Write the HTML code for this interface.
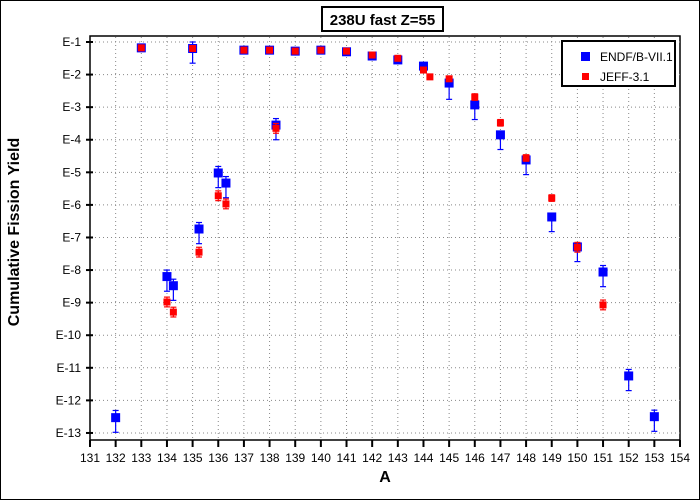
<!DOCTYPE html>
<html><head><meta charset="utf-8"><style>
html,body{margin:0;padding:0;background:#fff}
svg{display:block;font-family:"Liberation Sans",Arial,sans-serif}
</style></head><body>
<svg id="chart" width="700" height="500" viewBox="0 0 700 500">
<rect x="0.5" y="0.5" width="699" height="499" fill="#fff" stroke="#000"/>
<g>
<rect x="322" y="7" width="121" height="24" fill="#fff" stroke="#000" stroke-width="2"/>
<text x="382.5" y="25" text-anchor="middle" font-size="15" font-weight="bold">238U fast Z=55</text>
</g>
<rect x="90" y="36" width="590" height="404" fill="none" stroke="#000" stroke-width="1.5"/>
<g id="grid"></g>
<g id="xaxis"></g>
<g id="yaxis"></g>
<g id="series"></g>
<text x="19" y="232" transform="rotate(-90 19 232)" text-anchor="middle" font-size="16" font-weight="bold">Cumulative Fission Yield</text>
<text x="385" y="482" text-anchor="middle" font-size="16" font-weight="bold">A</text>
<g>
<rect x="562" y="41" width="113" height="45" fill="#fff" stroke="#000" stroke-width="2"/>
<g><rect x="581" y="52" width="9" height="9" fill="#0000ff"/><text x="600" y="61" font-size="12">ENDF/B-VII.1</text></g>
<g><rect x="582" y="73" width="7" height="7" fill="#ff0000"/><text x="600" y="81" font-size="12">JEFF-3.1</text></g>
</g>
</svg>
<script>
const xTicks = [131,132,133,134,135,136,137,138,139,140,141,142,143,144,145,146,147,148,149,150,151,152,153,154];
const yTickExp = [-1,-2,-3,-4,-5,-6,-7,-8,-9,-10,-11,-12,-13];
const yTickLabels = ["E-1","E-2","E-3","E-4","E-5","E-6","E-7","E-8","E-9","E-10","E-11","E-12","E-13"];
const endfA = [132,133,134,134.25,135,135.25,136,136.3,137,138,138.25,139,140,141,142,143,144,145,146,147,148,149,150,151,152,153];
const endfLog = [-12.53,-1.18,-8.2,-8.48,-1.2,-6.74,-5.02,-5.33,-1.25,-1.25,-3.55,-1.28,-1.25,-1.3,-1.43,-1.55,-1.74,-2.26,-2.93,-3.85,-4.62,-6.37,-7.29,-8.06,-11.25,-12.5];
const endfErrUp = [0.22,0.05,0.2,0.2,0.2,0.2,0.2,0.2,0.05,0.05,0.2,0.05,0.05,0.05,0.05,0.05,0.05,0.0,0.1,0.1,0.1,0.1,0.1,0.2,0.2,0.2];
const endfErrDn = [0.45,0.05,0.45,0.45,0.45,0.45,0.45,0.45,0.05,0.05,0.45,0.05,0.05,0.05,0.05,0.05,0.05,0.5,0.45,0.45,0.45,0.45,0.45,0.45,0.45,0.45];
const jeffA = [133,134,134.25,135,135.25,136,136.3,137,138,138.25,139,140,141,142,143,144,144.25,145,146,147,148,149,150,151];
const jeffLog = [-1.18,-8.98,-9.29,-1.2,-7.45,-5.72,-5.97,-1.25,-1.25,-3.65,-1.28,-1.25,-1.28,-1.4,-1.5,-1.86,-2.07,-2.13,-2.69,-3.48,-4.56,-5.79,-7.3,-9.07];
const jeffErr = [0.05,0.15,0.15,0.05,0.15,0.15,0.15,0.05,0.05,0.15,0.05,0.05,0.05,0.05,0.05,0.05,0.05,0.05,0.1,0.1,0.1,0.1,0.15,0.15];

const NS = "http://www.w3.org/2000/svg";
const X0 = 90, X1 = 680, Y0 = 42, DEC = 32.58;
function xs(a){ return X0 + (a - 131) * (X1 - X0) / 23; }
function ys(l){ return Y0 + (-1 - l) * DEC; }
function mk(tag, attrs, parent){ const e = document.createElementNS(NS, tag); for (const k in attrs) e.setAttribute(k, attrs[k]); parent.appendChild(e); return e; }

const grid = document.getElementById('grid'), xa = document.getElementById('xaxis'), ya = document.getElementById('yaxis'), ser = document.getElementById('series');
xTicks.forEach(function(t){
  const x = xs(t);
  if (t > 131 && t < 154) {
    const g = mk('line', {x1:x, x2:x, y1:37, y2:440, stroke:'#888', 'stroke-dasharray':'1,3'}, grid);
    
    
  }
  const tk = mk('line', {x1:x, x2:x, y1:440, y2:447, stroke:'#000', 'stroke-width':2}, xa);
  
  
  const lb = mk('text', {x:x, y:462, 'text-anchor':'middle', 'font-size':12}, xa);
  
  
  lb.textContent = t;
});
yTickExp.forEach(function(e, i){
  const y = ys(e);
  const g = mk('line', {x1:91, x2:680, y1:y, y2:y, stroke:'#888', 'stroke-dasharray':'1,3'}, grid);
  
  
  const tk = mk('line', {x1:86, x2:93, y1:y, y2:y, stroke:'#000', 'stroke-width':2}, ya);
  
  
  const lb = mk('text', {x:81, y:y+4, 'text-anchor':'end', 'font-size':12}, ya);
  
  
  lb.textContent = yTickLabels[i];
});
function errbar(x, yTop, yBot, col){
  const g = mk('g', {stroke:col, 'stroke-width':1.2}, ser);
  
  
  mk('line', {x1:x, x2:x, y1:yTop, y2:yBot}, g);
  mk('line', {x1:x-3, x2:x+3, y1:yTop, y2:yTop}, g);
  mk('line', {x1:x-3, x2:x+3, y1:yBot, y2:yBot}, g);
}
endfA.forEach(function(a, i){
  const x = xs(a), y = ys(endfLog[i]);
  errbar(x, ys(endfLog[i] + endfErrUp[i]), ys(endfLog[i] - endfErrDn[i]), '#0000ff');
  const r = mk('rect', {x:x-4.5, y:y-4.5, width:9, height:9, fill:'#0000ff'}, ser);
  
  
});
jeffA.forEach(function(a, i){
  const x = xs(a), y = ys(jeffLog[i]);
  errbar(x, ys(jeffLog[i] + jeffErr[i]), ys(jeffLog[i] - jeffErr[i]), '#ff0000');
  const r = mk('rect', {x:x-3.5, y:y-3.5, width:7, height:7, fill:'#ff0000'}, ser);
  
  
});
</script>
</body></html>
